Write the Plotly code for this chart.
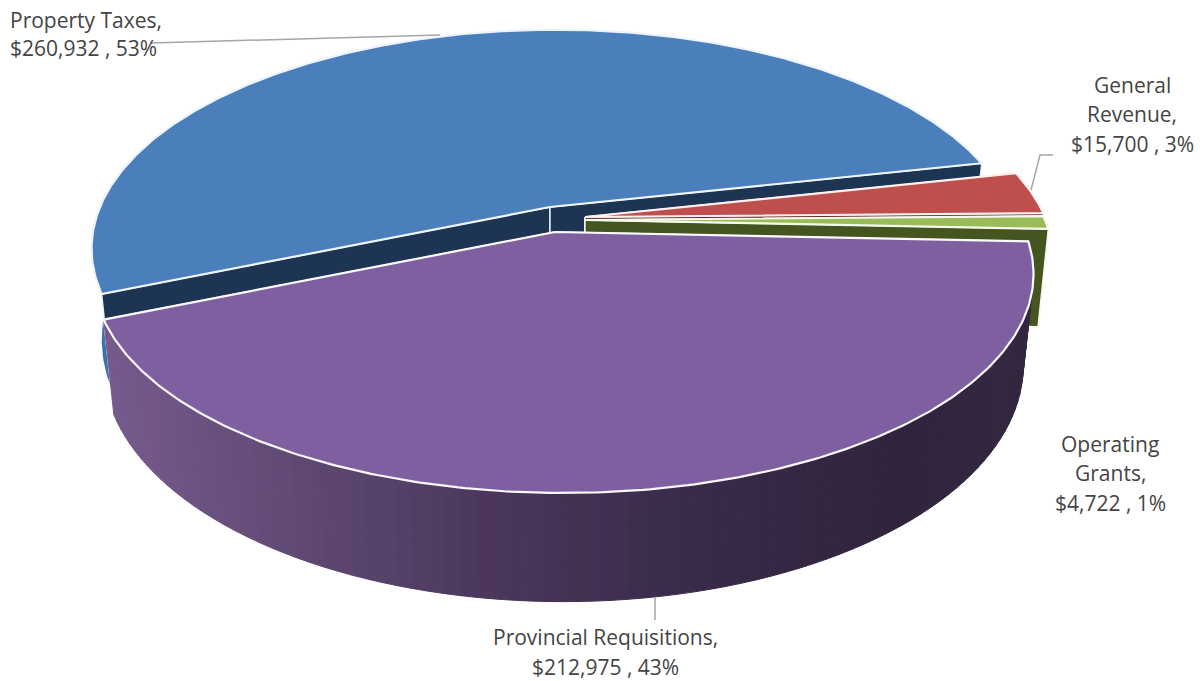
import math
import plotly.graph_objects as go

# ---- data ----
categories = ["Property Taxes", "General Revenue", "Operating Grants", "Provincial Requisitions"]
values = [260932, 15700, 4722, 212975]
label_lines = [["Property Taxes,"], ["General", "Revenue,"], ["Operating", "Grants,"], ["Provincial Requisitions,"]]

# ---- styles / geometry of the tilted pie ----
W, H = 1203, 681
START_DEG = 202.5          # left edge of the first slice, going clockwise
B, P = 211.0, 0.19         # ellipse half axis and perspective strength
SHRINK = 0.978
N = 90
slice_style = [
    dict(top="#4B7FBC", wall="#3E72AC", cut="#1D3553", edge="#EEF4FB", c=(555, 207), apex=(550, 207), a=455, depth=88),
    dict(top="#BF4F4C", wall="#7A2F2D", cut="#5E2523", edge="#FBF0EF", c=(580, 217), apex=(585, 217), a=465, depth=88),
    dict(top="#99BB58", wall="#465A22", cut="#44551F", edge="#F6FAEC", c=(580, 220), apex=(585, 220), a=465, depth=97),
    dict(top="#7E60A0", wall="#4A3558", cut="#33243F", edge="#FAF7FD", c=(563.5, 232.5), apex=(555, 232), a=461.5, depth=88),
]
wall_stops = [(100, "#775B8E"), (300, "#5F4974"), (500, "#4A3659"), (700, "#392A49"), (900, "#31233C"), (1040, "#342740")]
label_xy = [
    [("left", 8, 20), ("left", 8, 48)],
    [("center", 1132, 85), ("center", 1132, 114), ("center", 1132, 144)],
    [("center", 1110, 444), ("center", 1110, 473), ("center", 1110, 503)],
    [("center", 605, 637), ("center", 605, 667)],
]
leaders = [
    ([150, 440], [43, 35]),
    ([1053, 1040, 1031], [155, 155, 190]),
    ([655, 655], [597, 620]),
]
TEXT = "#444444"
FONT = "Open Sans"


def rim(style, deg, low=False):
    t = math.radians(deg)
    X, Y = math.cos(t), -math.sin(t)     # Y grows toward the viewer
    w = 1 - P * Y
    dx, dy = style["a"] * X / w, B * Y / w
    cx, cy = style["c"]
    if low:
        return cx + dx * SHRINK, cy + dy + style["depth"] / w
    return cx + dx, cy + dy


def apex(style, low=False):
    ax, ay = style["apex"]
    return (ax, ay + style["depth"]) if low else (ax, ay)


def arc(style, a0, a1, low=False):
    n = max(2, int(abs(a1 - a0) * 1.5))
    return [rim(style, a0 + (a1 - a0) * i / n, low) for i in range(n + 1)]


def hex_rgb(h):
    return tuple(int(h[i:i + 2], 16) for i in (1, 3, 5))


def wall_color(x):
    for (x0, c0), (x1, c1) in zip(wall_stops, wall_stops[1:]):
        if x <= x1:
            f = max(0.0, (x - x0) / (x1 - x0))
            a, b = hex_rgb(c0), hex_rgb(c1)
            return "rgb(%d,%d,%d)" % tuple(round(p + (q - p) * f) for p, q in zip(a, b))
    return wall_stops[-1][1]


fig = go.Figure()


def poly(pts, fill, line=None, width=0.0):
    xs = [p[0] for p in pts] + [pts[0][0]]
    ys = [p[1] for p in pts] + [pts[0][1]]
    fig.add_trace(go.Scatter(x=xs, y=ys, mode="lines", fill="toself", fillcolor=fill,
                             line=dict(color=line or fill, width=width),
                             hoverinfo="skip", showlegend=False))


def cuts(st, a0, a1):
    for end in (a0, a1):
        poly([apex(st), rim(st, end), rim(st, end, True), apex(st, True)], st["cut"], st["edge"], 1.4)


total = sum(values)
angle = START_DEG
for i, (v, st) in enumerate(zip(values, slice_style)):
    # slices run clockwise, so the angle decreases
    a0, a1 = angle, angle - 360.0 * v / total
    angle = a1
    if i == len(values) - 1:
        # front slice: shaded outer wall hides its cut faces
        cuts(st, a0, a1)
        for k in range(N):
            b0 = a0 + (a1 - a0) * k / N
            b1 = a0 + (a1 - a0) * (k + 1) / N
            q = [rim(st, b0), rim(st, b1), rim(st, b1, True), rim(st, b0, True)]
            col = wall_color(sum(p[0] for p in q) / 4)
            poly(q, col, col, 1)
    else:
        poly(arc(st, a0, a1) + arc(st, a1, a0, True), st["wall"])
        cuts(st, a0, a1)
    # top surface
    poly([apex(st)] + arc(st, a0, a1), st["top"], st["edge"], 2.2)

for xs, ys in leaders:
    fig.add_trace(go.Scatter(x=xs, y=ys, mode="lines", line=dict(color="#A6A6A6", width=1.5),
                             hoverinfo="skip", showlegend=False))

for lines, v, xy in zip(label_lines, values, label_xy):
    texts = lines + ["$%s , %d%%" % (format(v, ","), round(100 * v / total))]
    for txt, (al, x, y) in zip(texts, xy):
        fig.add_annotation(x=x, y=y, text=txt, showarrow=False, xanchor=al, yanchor="middle",
                           font=dict(family=FONT, size=21, color=TEXT))

fig.update_layout(
    width=W, height=H, margin=dict(l=0, r=0, t=0, b=0), paper_bgcolor="white", plot_bgcolor="white",
    xaxis=dict(range=[0, W], visible=False, fixedrange=True),
    yaxis=dict(range=[H, 0], visible=False, fixedrange=True),
    showlegend=False,
)
fig.write_html("out.html", config={"displayModeBar": False},
               post_script="document.body.style.margin='0';document.body.style.overflow='hidden';")
